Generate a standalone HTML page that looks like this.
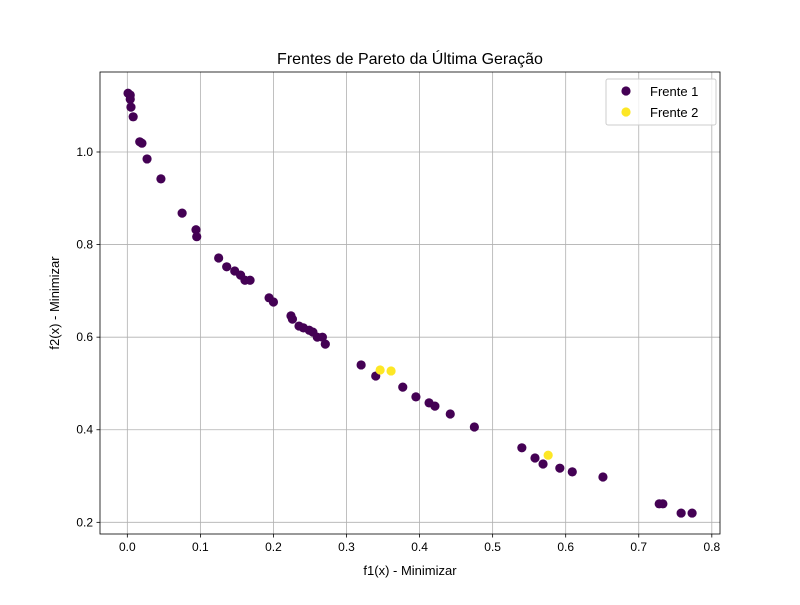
<!DOCTYPE html>
<html><head><meta charset="utf-8"><style>body{margin:0;background:#fff}svg{font-family:"Liberation Sans","DejaVu Sans",sans-serif}</style></head>
<body>
<svg id="chart" width="800" height="600" xmlns="http://www.w3.org/2000/svg"></svg>
<script>
const front1X=[0.001,0.004,0.004,0.005,0.008,0.017,0.02,0.027,0.046,0.075,0.094,0.095,0.125,0.136,0.147,0.155,0.161,0.168,0.194,0.2,0.224,0.226,0.235,0.241,0.249,0.254,0.26,0.267,0.271,0.32,0.34,0.377,0.395,0.413,0.421,0.442,0.475,0.54,0.558,0.569,0.592,0.609,0.651,0.728,0.733,0.758,0.773];
const front1Y=[1.127,1.123,1.114,1.097,1.076,1.022,1.019,0.985,0.942,0.868,0.832,0.817,0.771,0.752,0.743,0.734,0.723,0.723,0.685,0.676,0.646,0.639,0.624,0.62,0.615,0.611,0.6,0.6,0.585,0.54,0.516,0.492,0.471,0.458,0.451,0.434,0.406,0.361,0.339,0.326,0.317,0.309,0.298,0.24,0.24,0.22,0.22];
const front2X=[0.346,0.361,0.576];
const front2Y=[0.529,0.527,0.345];
const xTicks=[0,0.1,0.2,0.3,0.4,0.5,0.6,0.7,0.8];
const xTickLabels=["0.0","0.1","0.2","0.3","0.4","0.5","0.6","0.7","0.8"];
const yTicks=[0.2,0.4,0.6,0.8,1.0];
const yTickLabels=["0.2","0.4","0.6","0.8","1.0"];
const L=100,R=720,T=72,B=534;
const xMin=-0.0374,xMax=0.8112,yMin=0.1748,yMax=1.1728;
const sx=v=>L+(v-xMin)/(xMax-xMin)*(R-L);
const sy=v=>B-(v-yMin)/(yMax-yMin)*(B-T);
const svg=document.getElementById('chart');const NS="http://www.w3.org/2000/svg";
function mk(tag,attrs,name,parent){const e=document.createElementNS(NS,tag);for(const k in attrs)e.setAttribute(k,attrs[k]);


(parent||svg).appendChild(e);return e;}
xTicks.forEach((v,i)=>{const x=sx(v);
mk('line',{x1:x,x2:x,y1:T,y2:B,stroke:'#b0b0b0','stroke-width':0.8},'x-gridline');
mk('line',{x1:x,x2:x,y1:B,y2:B+3.5,stroke:'#000','stroke-width':0.8},'x-tick');
const t=mk('text',{x:x,y:B+17,'font-size':12,'text-anchor':'middle'},'x-tick-label');t.textContent=xTickLabels[i];});
yTicks.forEach((v,i)=>{const y=sy(v);
mk('line',{x1:L,x2:R,y1:y,y2:y,stroke:'#b0b0b0','stroke-width':0.8},'y-gridline');
mk('line',{x1:L-3.5,x2:L,y1:y,y2:y,stroke:'#000','stroke-width':0.8},'y-tick');
const t=mk('text',{x:L-7,y:y+4,'font-size':12,'text-anchor':'end'},'y-tick-label');t.textContent=yTickLabels[i];});
front1X.forEach((v,i)=>mk('circle',{cx:sx(v),cy:sy(front1Y[i]),r:4.6,fill:'#440154'},'front1-point'));
front2X.forEach((v,i)=>mk('circle',{cx:sx(v),cy:sy(front2Y[i]),r:4.6,fill:'#fde725'},'front2-point'));
mk('rect',{x:L,y:T,width:R-L,height:B-T,fill:'none',stroke:'#000','stroke-width':0.8},'plot-frame');
let t=mk('text',{x:410,y:64,'font-size':16,'text-anchor':'middle'},'chart-title');t.textContent='Frentes de Pareto da Última Geração';
t=mk('text',{x:410,y:575,'font-size':13,'text-anchor':'middle'},'x-axis-title');t.textContent='f1(x) - Minimizar';
t=mk('text',{x:0,y:0,'font-size':13,'text-anchor':'middle',transform:'translate(59,303) rotate(-90)'},'y-axis-title');t.textContent='f2(x) - Minimizar';
const lg=mk('g',{},'legend');
mk('rect',{x:606,y:79,width:110,height:46,rx:2,fill:'#fff','fill-opacity':0.8,stroke:'#ccc'},'legend-box',lg);
mk('circle',{cx:626,cy:91,r:4.6,fill:'#440154'},'legend-marker-front1',lg);
t=mk('text',{x:650,y:96,'font-size':13},'legend-label-front1',lg);t.textContent='Frente 1';
mk('circle',{cx:626,cy:112,r:4.6,fill:'#fde725'},'legend-marker-front2',lg);
t=mk('text',{x:650,y:117,'font-size':13},'legend-label-front2',lg);t.textContent='Frente 2';
</script>
</body></html>
